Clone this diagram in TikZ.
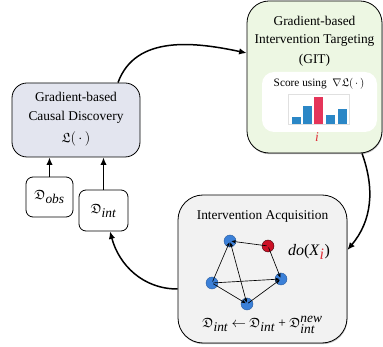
\documentclass[tikz,border=0pt]{standalone}
\usepackage{amssymb}
\usepackage{fontspec}
\setmainfont{Liberation Serif}
\usetikzlibrary{arrows.meta,shadows}

\definecolor{gitfill}{HTML}{EDF7E3}
\definecolor{cdfill}{HTML}{E3E5EF}
\definecolor{acqfill}{HTML}{F2F2F2}
\definecolor{nodeblue}{HTML}{3B80D8}
\definecolor{nodeblueedge}{HTML}{2A5C9E}
\definecolor{nodered}{HTML}{CC1126}
\definecolor{barblue}{HTML}{2B87C6}
\definecolor{barred}{HTML}{E5355A}
\definecolor{idxred}{HTML}{E0303A}

\newcommand{\Dset}[1]{$\mathfrak{D}_{\textit{#1}}$}

\tikzset{
  panel/.style={draw=black, line width=0.8pt, inner sep=0pt, rounded corners=#1},
  databox/.style={draw=black, line width=0.8pt, rounded corners=7pt, inner sep=0pt},
  flow/.style={-{Latex[length=7.5pt,width=6.5pt]}, line width=1.5pt},
  var/.style={circle, draw=nodeblueedge, fill=nodeblue, line width=0.4pt, minimum size=12pt, inner sep=0pt},
  dagedge/.style={-{Stealth[length=4.5pt,width=3.5pt]}, line width=0.65pt},
  big/.style={font=\fontsize{13.4}{16}\selectfont, inner sep=0pt},
  small/.style={font=\fontsize{11.3}{13}\selectfont, inner sep=0pt}
}

\begin{document}
\begin{tikzpicture}[x=1pt,y=-1pt]
\useasboundingbox (0,0) rectangle (383,347);

% panels
\node[panel=22pt, fill=gitfill, minimum width=135pt, minimum height=152pt,
      drop shadow={shadow xshift=0.5pt, shadow yshift=-1.2pt, opacity=0.55}] (git) at (314.5,77) {};
\node[panel=15pt, fill=cdfill, minimum width=128pt, minimum height=74pt] (cd) at (76,120) {};
\node[panel=25pt, fill=acqfill, minimum width=169pt, minimum height=148pt,
      drop shadow={shadow xshift=0.5pt, shadow yshift=-1.2pt, opacity=0.55}] (acq) at (262.5,269) {};

% data boxes
\node[databox, fill=white, minimum width=47pt, minimum height=40pt] (dobs) at (49.5,197) {};
\node[databox, fill=white, minimum width=49pt, minimum height=41pt] (dint) at (103.5,210.5) {};
\node[big] (dobslbl) at (dobs) {\Dset{obs}};
\node[big] (dintlbl) at (dint) {\Dset{int}};

% causal discovery text
\node[big] (cd1) at (76,97) {Gradient-based};
\node[big] (cd2) at (76,117) {Causal Discovery};
\node[big] (cd3) at (76,139) {$\mathfrak{L}(\,\cdot\,)$};

% intervention targeting text
\node[big] (git1) at (314.5,21) {Gradient-based};
\node[big] (git2) at (314.5,40.5) {Intervention Targeting};
\node[big] (git3) at (314.5,60) {(GIT)};
\node[draw=none, fill=white, rounded corners=12pt, minimum width=115pt, minimum height=60pt] (score) at (319.5,102) {};
\node[small] (scorelbl) at (319,84) {Score using\enspace$\nabla\mathfrak{L}(\,\cdot\,)$};

% score bar chart
\draw[black!12, line width=0.4pt] (288,94) rectangle (349,124);
\fill[barblue] (292,117) rectangle (300.5,124);
\fill[barblue] (303,106) rectangle (311.5,124);
\fill[barred]  (314,97)  rectangle (322.5,124);
\fill[barblue] (326,115) rectangle (334.5,124);
\fill[barblue] (338,109) rectangle (346.5,124);
\node[big, text=idxred] (idx) at (317,137) {\textit{i}};

% intervention acquisition text
\node[big] (acq1) at (262.5,216) {Intervention Acquisition};
\node[font=\fontsize{16}{18}\selectfont, inner sep=0pt] (dolbl) at (309,252) {\textit{do}(\textit{X}$_{\textcolor{idxred}{\textit{i}}}$)};
\node[big] (update) at (262.5,325) {\Dset{int} $\leftarrow$ \Dset{int} + $\mathfrak{D}_{\textit{int}}^{\textit{new}}$};

% causal graph
\node[var] (va) at (230,241) {};
\node[var, draw=black!70!nodered, fill=nodered] (vr) at (268,246) {};
\node[var] (vb) at (281,279) {};
\node[var] (vc) at (212,283) {};
\node[var] (vd) at (247,304) {};
\begin{scope}[shorten >=1.5pt, shorten <=1.5pt]
\draw[dagedge] (vr.center) -- (va.center);
\draw[dagedge] (vr.center) -- (vb.center);
\draw[dagedge] (vc.center) -- (va.center);
\draw[dagedge] (vc.center) -- (vb.center);
\draw[dagedge] (vc.center) -- (vd.center);
\draw[dagedge] (vd.center) -- (vb.center);
\draw[dagedge, {Stealth[length=4.5pt,width=3.5pt]}-{Stealth[length=4.5pt,width=3.5pt]}] (va.center) -- (vd.center);
\end{scope}

% loop connectors
\draw[flow] ([xshift=42pt]cd.north) to[out=70, in=168] ([yshift=24pt]git.west);
\draw[flow] ([xshift=47.5pt]git.south) to[out=-70, in=50] ([yshift=19pt]acq.east);
\draw[flow] ([yshift=-20pt]acq.west) to[out=180, in=-75] ([xshift=6.5pt]dint.south);
\draw[flow] (dobs.north) -- (dobs.north |- cd.south);
\draw[flow] (dint.north) -- (dint.north |- cd.south);
\end{tikzpicture}
\end{document}
